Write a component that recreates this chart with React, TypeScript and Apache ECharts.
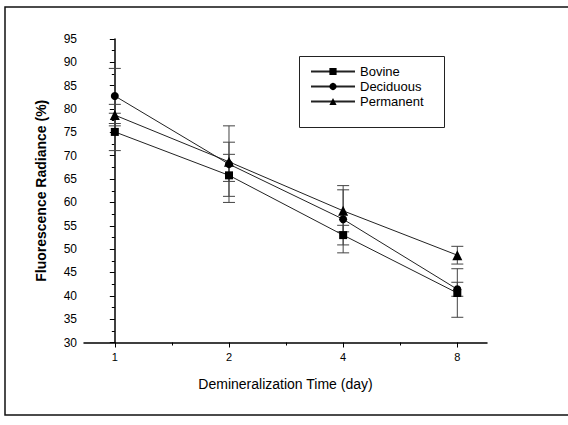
import React, { useEffect, useRef } from "react";
import * as echarts from "echarts";

const days = [1, 2, 4, 8];
const seriesNames = ["Bovine", "Deciduous", "Permanent"];
const bovine = [75.1, 65.8, 53.0, 40.6];
const bovineErr = [4.0, 4.5, 2.1, 5.2];
const deciduous = [82.8, 68.2, 56.4, 41.4];
const deciduousErr = [5.9, 8.2, 7.2, 1.5];
const permanent = [78.7, 68.7, 58.2, 48.7];
const permanentErr = [2.3, 4.2, 4.5, 1.9];
const yTicks = [30, 95, 5];

const FONT = "Liberation Sans, Arial, sans-serif";

export default function App() {
  const ref = useRef<HTMLDivElement>(null);
  useEffect(() => {
    document.body.style.margin = "0";
    const chart = echarts.init(ref.current!, null, { renderer: "svg" });
    const lx = days.map((d) => Math.log2(d));
    const lineData = (vals: number[]) => vals.map((v, i) => [lx[i], v]);
    const errData = (vals: number[], errs: number[]) =>
      vals.map((v, i) => [lx[i], v, errs[i]]);
    const errSeries = (name: string, vals: number[], errs: number[]) => ({
      type: "custom",
      name: name + " err",
      data: errData(vals, errs),
      encode: { x: 0, y: 1 },
      z: 1,
      silent: true,
      renderItem: (params: any, api: any) => {
        const x = api.value(0);
        const y = api.value(1);
        const e = api.value(2);
        const top = api.coord([x, y + e]);
        const bot = api.coord([x, y - e]);
        const w = 6;
        const st = { stroke: "#444", lineWidth: 1 };
        return {
          type: "group",
          children: [
            { type: "line", shape: { x1: top[0], y1: top[1], x2: bot[0], y2: bot[1] }, style: st },
            { type: "line", shape: { x1: top[0] - w, y1: top[1], x2: top[0] + w, y2: top[1] }, style: st },
            { type: "line", shape: { x1: bot[0] - w, y1: bot[1], x2: bot[0] + w, y2: bot[1] }, style: st },
          ],
        };
      },
    });
    const lineSeries = (name: string, vals: number[], symbol: string, size: number) => ({
      type: "line",
      name,
      data: lineData(vals),
      symbol,
      symbolSize: size,
      z: 3,
      itemStyle: { color: "#000" },
      lineStyle: { color: "#222", width: 1 },
    });
    chart.setOption({
      animation: false,
      backgroundColor: "#fff",
      textStyle: { fontFamily: FONT },
      graphic: [
        {
          type: "rect",
          shape: { x: 5, y: 7, width: 620, height: 408 },
          style: { fill: "none", stroke: "#111", lineWidth: 1.5 },
          z: 0,
        },
        {
          type: "rect",
          shape: { x: 299.5, y: 56.5, width: 145, height: 71 },
          style: { fill: "#fff", stroke: "#222", lineWidth: 1 },
          z: 0,
        },
      ],
      legend: {
        data: seriesNames,
        orient: "vertical",
        left: 310,
        top: 65,
        itemWidth: 44,
        itemHeight: 9,
        itemGap: 2,
        padding: 0,
        textStyle: { fontFamily: FONT, fontSize: 13, color: "#000", lineHeight: 13 },
        z: 5,
      },
      grid: { left: 84, right: 81, top: 39, bottom: 82.5, containLabel: false },
      xAxis: [
        {
          type: "value",
          min: -0.27,
          max: 3.26,
          name: "Demineralization Time (day)",
          nameLocation: "middle",
          nameGap: 34,
          nameTextStyle: { fontFamily: FONT, fontSize: 14, color: "#000" },
          axisLine: { lineStyle: { color: "#000", width: 1.5 } },
          axisTick: { customValues: [0, 1, 2, 3], length: 5, lineStyle: { color: "#000" } },
          axisLabel: {
            customValues: [0, 1, 2, 3],
            formatter: (v: number) => String(Math.round(Math.pow(2, v))),
            fontFamily: FONT,
            fontSize: 11,
            color: "#000",
            margin: 9,
          },
          splitLine: { show: false },
        },
        {
          type: "value",
          min: -0.27,
          max: 3.26,
          position: "bottom",
          axisLine: { show: false },
          axisTick: { customValues: [0.5, 1.5, 2.5], length: 3, lineStyle: { color: "#000" } },
          axisLabel: { show: false },
          splitLine: { show: false },
        },
      ],
      yAxis: {
        type: "value",
        min: yTicks[0],
        max: yTicks[1],
        interval: yTicks[2],
        name: "Fluorescence Radiance (%)",
        nameLocation: "middle",
        nameRotate: 90,
        nameGap: 36,
        nameTextStyle: { fontFamily: FONT, fontSize: 14, fontWeight: "bold", color: "#000" },
        axisLine: { show: true, lineStyle: { color: "#000", width: 1.5 } },
        axisTick: { show: true, length: 5, lineStyle: { color: "#000" } },
        minorTick: { show: true, splitNumber: 2, length: 3, lineStyle: { color: "#000" } },
        axisLabel: { fontFamily: FONT, fontSize: 12, color: "#000", margin: 7 },
        splitLine: { show: false },
      },
      series: [
        errSeries("Bovine", bovine, bovineErr),
        errSeries("Deciduous", deciduous, deciduousErr),
        errSeries("Permanent", permanent, permanentErr),
        lineSeries("Bovine", bovine, "rect", 8),
        lineSeries("Deciduous", deciduous, "circle", 8),
        lineSeries("Permanent", permanent, "triangle", 10),
      ],
    });
    return () => chart.dispose();
  }, []);
  return <div ref={ref} style={{ width: 568, height: 425 }} />;
}
